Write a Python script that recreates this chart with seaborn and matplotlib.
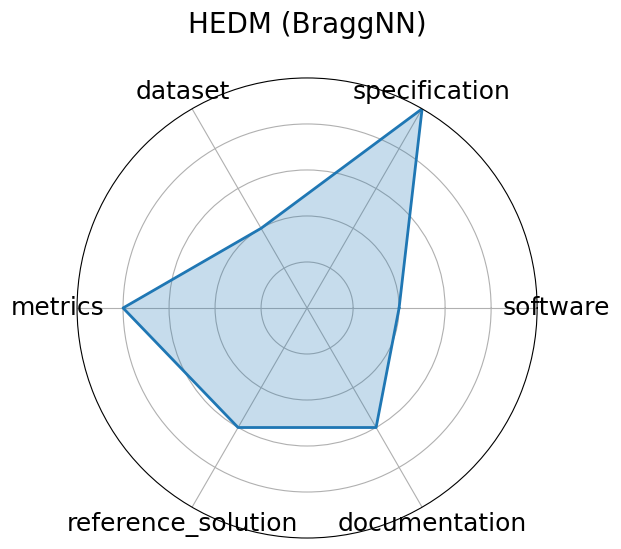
import numpy as np
import pandas as pd
import matplotlib
matplotlib.use("Agg")
import matplotlib.pyplot as plt
import seaborn as sns

categories = ["software", "specification", "dataset", "metrics", "reference_solution", "documentation"]
values = [2, 5, 2, 4, 3, 3]
title = "HEDM (BraggNN)"

sns.set_style("white")
plt.rcParams['font.family'] = ['DejaVu Sans']
plt.rcParams['text.color'] = 'black'
plt.rcParams['xtick.color'] = 'black'

n = len(categories)
angles = np.linspace(0, 2 * np.pi, n, endpoint=False).tolist()
df = pd.DataFrame({"angle": angles + angles[:1], "value": values + values[:1]})

fig = plt.figure(figsize=(6.21, 5.49), dpi=100)
ax = fig.add_axes([0.124, 0.02, 0.741, 0.838], projection="polar")
color = "#1f77b4"
sns.lineplot(data=df, x="angle", y="value", ax=ax, color=color, linewidth=2, sort=False, estimator=None)
ax.fill(df["angle"], df["value"], color=color, alpha=0.25)
ax.set_ylim(0, 5)
ax.set_yticks([1, 2, 3, 4])
ax.set_yticklabels([])
ax.set_xticks(angles)
ax.set_xticklabels(categories, fontsize=18, color="black")
ax.set_xlabel("")
ax.set_ylabel("")
ax.grid(True, color="#b0b0b0", linewidth=0.8)
ax.spines["polar"].set_color("black")
ax.spines["polar"].set_linewidth(0.8)
ax.tick_params(axis="x", pad=3.5)
fig.text(0.495, 0.955, title, ha="center", va="center", fontsize=20, color="black")
fig.savefig("out.png", dpi=100)
